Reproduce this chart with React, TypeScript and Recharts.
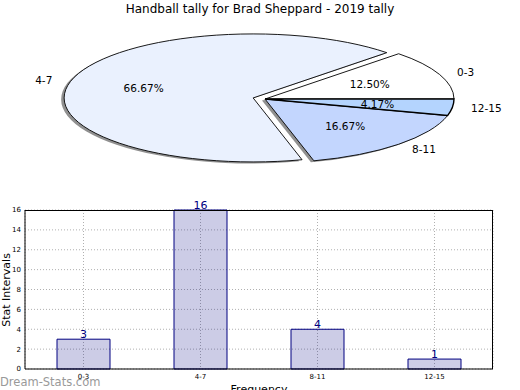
import React from 'react';
import {
  PieChart,
  Pie,
  BarChart,
  Bar,
  XAxis,
  YAxis,
  CartesianGrid,
  LabelList,
} from 'recharts';

const categories = ['0-3', '4-7', '8-11', '12-15'];
const tallies = [3, 16, 4, 1];
const yTicks = [0, 2, 4, 6, 8, 10, 12, 14, 16];
const pieColors = ['#ffffff', '#eaf1fe', '#c3d6fe', '#b4d4fe'];
const pieExplode = [0, 0.065, 0, 0];

const FONT = '"DejaVu Sans", sans-serif';
const RAD = Math.PI / 180;
const RX = 189;
const RY = 64;

const data = categories.map((name, i) => ({ name, value: tallies[i] }));

// matplotlib-style squashed pie: angles from recharts, drawn as an ellipse
const wedgeCenter = (p: any) => {
  const mid = p.midAngle * RAD;
  const d = pieExplode[p.index] * RX;
  return { x: p.cx + d * Math.cos(mid), y: p.cy - d * (RY / RX) * Math.sin(mid) };
};

const wedgePath = (cx: number, cy: number, s: number, e: number) => {
  const x0 = cx + RX * Math.cos(s * RAD);
  const y0 = cy - RY * Math.sin(s * RAD);
  const x1 = cx + RX * Math.cos(e * RAD);
  const y1 = cy - RY * Math.sin(e * RAD);
  const large = Math.abs(e - s) > 180 ? 1 : 0;
  return `M${cx},${cy} L${x0},${y0} A${RX},${RY} 0 ${large} 0 ${x1},${y1} Z`;
};

const renderShadow = (p: any) => {
  const c = wedgeCenter(p);
  return (
    <path
      key={`sh-${p.index}`}
      d={wedgePath(c.x - 3, c.y + 1.5, p.startAngle, p.endAngle)}
      fill="#222"
      fillOpacity={0.5}
      stroke="none"
    />
  );
};

const renderWedge = (p: any) => {
  const c = wedgeCenter(p);
  return (
    <path
      key={`w-${p.index}`}
      d={wedgePath(c.x, c.y, p.startAngle, p.endAngle)}
      fill={pieColors[p.index]}
      stroke="#000"
      strokeWidth={p.index === 3 ? 1.4 : 0.9}
    />
  );
};

const renderText = (p: any) => {
  const c = wedgeCenter(p);
  const mid = p.midAngle * RAD;
  const lx = c.x + 1.1 * RX * Math.cos(mid);
  const ly = c.y - 1.1 * RY * Math.sin(mid);
  const px = c.x + 0.6 * RX * Math.cos(mid);
  const py = c.y - 0.6 * RY * Math.sin(mid);
  return (
    <g key={`t-${p.index}`} fontFamily={FONT} fontSize={10.5} fill="#000">
      <text x={lx} y={ly} textAnchor={lx > c.x ? 'start' : 'end'} dominantBaseline="central">
        {p.name}
      </text>
      <text x={px} y={py} textAnchor="middle" dominantBaseline="central">
        {(p.percent * 100).toFixed(2)}%
      </text>
    </g>
  );
};

const YTitle = () => (
  <text
    x={10}
    y={90}
    transform="rotate(-90 10 90)"
    textAnchor="middle"
    fontFamily={FONT}
    fontSize={11}
    fill="#000"
  >
    Stat Intervals
  </text>
);

const XTitle = () => (
  <text x={259} y={193} textAnchor="middle" fontFamily={FONT} fontSize={11} fill="#000">
    Frequency
  </text>
);

const App: React.FC = () => {
  const tick = { fontSize: 7, fill: '#000', fontFamily: FONT };
  return (
    <div
      style={{
        position: 'absolute',
        left: 0,
        top: 0,
        width: 520,
        height: 390,
        background: '#fff',
        overflow: 'hidden',
        fontFamily: FONT,
      }}
    >
      <div
        style={{
          position: 'absolute',
          top: 3,
          left: 0,
          width: 520,
          textAlign: 'center',
          fontSize: 12,
          lineHeight: '12px',
          color: '#000',
        }}
      >
        Handball tally for Brad Sheppard - 2019 tally
      </div>

      <div style={{ position: 'absolute', left: 0, top: 0 }}>
        <PieChart width={520} height={200}>
          {[renderShadow, renderWedge, renderText].map((fn, i) => (
            <Pie
              key={i}
              data={data}
              dataKey="value"
              nameKey="name"
              cx={260}
              cy={94}
              outerRadius={RX}
              startAngle={0}
              endAngle={360}
              fill="none"
              stroke="none"
              label={fn}
              labelLine={false}
              isAnimationActive={false}
            />
          ))}
        </PieChart>
      </div>

      <div style={{ position: 'absolute', left: 0, top: 200 }}>
        <BarChart
          width={520}
          height={200}
          data={data}
          margin={{ top: 10, right: 27, left: 0, bottom: 10 }}
        >
          <CartesianGrid stroke="#b0b0b0" strokeDasharray="1 2" />
          <XAxis
            dataKey="name"
            height={21}
            tick={tick}
            tickLine={false}
            tickSize={3}
            axisLine={{ stroke: '#000' }}
            interval={0}
            label={{ content: () => <XTitle /> }}
          />
          <YAxis
            width={25}
            domain={[0, 16]}
            ticks={yTicks}
            tick={tick}
            tickLine={false}
            tickSize={2}
            tickMargin={2}
            axisLine={{ stroke: '#000' }}
            interval={0}
            label={{ content: () => <YTitle /> }}
          />
          <Bar
            dataKey="value"
            fill="#000080"
            fillOpacity={0.2}
            stroke="#000080"
            strokeWidth={1}
            barSize={53}
            isAnimationActive={false}
          >
            <LabelList dataKey="value" position="top" offset={1} fill="#000080" fontSize={11} fontFamily={FONT} />
          </Bar>
        </BarChart>
        {/* top and right spines of the axes box */}
        <div
          style={{
            position: 'absolute',
            left: 25,
            top: 10,
            width: 468,
            height: 159,
            borderTop: '1px solid #000',
            borderRight: '1px solid #000',
            boxSizing: 'border-box',
            pointerEvents: 'none',
          }}
        />
      </div>

      <div
        style={{
          position: 'absolute',
          left: 0,
          top: 375,
          fontSize: 11.5,
          color: '#999',
          lineHeight: '14px',
        }}
      >
        Dream-Stats.com
      </div>
    </div>
  );
};

export default App;
